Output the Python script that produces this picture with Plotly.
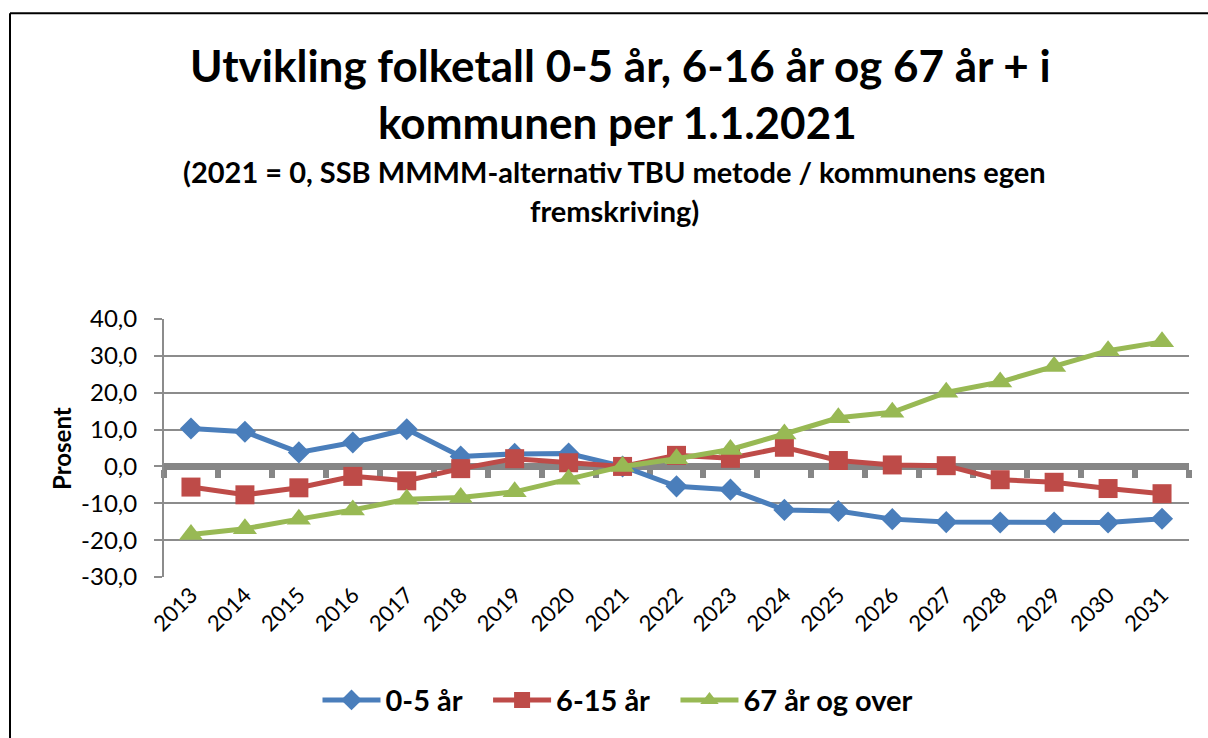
import plotly.graph_objects as go

years = list(range(2013, 2032))
series_names = ["0-5 år", "6-15 år", "67 år og over"]
age_0_5 = [10.3, 9.4, 3.8, 6.5, 10.1, 2.7, 3.4, 3.5, 0.0, -5.4, -6.3, -11.8, -12.1,
           -14.3, -15.1, -15.2, -15.2, -15.2, -14.2]
age_6_15 = [-5.6, -7.7, -5.8, -2.7, -3.9, -0.6, 2.1, 1.0, 0.0, 3.0, 2.2, 5.2, 1.6,
            0.4, 0.2, -3.6, -4.3, -6.0, -7.4]
age_67 = [-18.5, -16.9, -14.3, -11.8, -8.9, -8.4, -6.9, -3.5, 0.0, 2.1, 4.6, 8.8, 13.2,
          14.7, 20.1, 22.9, 27.1, 31.4, 33.8]
y_ticks = [-30, -20, -10, 0, 10, 20, 30, 40]
y_tick_text = ["-30,0", "-20,0", "-10,0", "0,0", "10,0", "20,0", "30,0", "40,0"]
title_lines = ["Utvikling folketall 0-5 år, 6-16 år og 67 år + i",
               "kommunen per 1.1.2021"]
subtitle_lines = ["(2021 = 0, SSB MMMM-alternativ TBU metode / kommunens egen",
                  "fremskriving)"]
y_title = "Prosent"

FONT = "Lato"
W, H = 1208, 738
L, R, T, B = 164, 19, 319, 159
PW = W - L - R
PH = H - T - B


def px(x):
    return (x - L) / PW


def py(y):
    return (H - B - y) / PH


fig = go.Figure()
styles = [
    dict(color="#4A7EBB", symbol="diamond", size=17),
    dict(color="#BE4B48", symbol="square", size=19),
    dict(color="#98B954", symbol="triangle-up", size=21),
]
GAP = "\u00a0\u00a0\u00a0"
for i, (name, vals, st) in enumerate(zip(series_names, [age_0_5, age_6_15, age_67], styles)):
    fig.add_trace(go.Scatter(
        x=years, y=vals, name=name + (GAP if i < len(series_names) - 1 else ""),
        mode="lines+markers",
        line=dict(color=st["color"], width=5),
        marker=dict(symbol=st["symbol"], size=st["size"], color=st["color"]),
    ))

# dummy trace for the tick-mark axis on the zero line
fig.add_trace(go.Scatter(x=[years[0]], y=[0], xaxis="x2", mode="markers",
                         marker=dict(opacity=0), showlegend=False, hoverinfo="skip"))

boundaries = [y - 0.5 for y in years] + [years[-1] + 0.5]

fig.update_layout(
    width=W, height=H,
    margin=dict(l=L, r=R, t=T, b=B),
    paper_bgcolor="white", plot_bgcolor="white",
    font=dict(family=FONT, color="black"),
    showlegend=True,
    legend=dict(orientation="h", x=px(618), xanchor="center", y=py(703), yanchor="middle",
                font=dict(size=29, family=FONT, color="black", weight="bold"),
                itemwidth=58, traceorder="normal", bgcolor="rgba(0,0,0,0)"),
    xaxis=dict(range=[2012.5, 2031.5], tickvals=years, ticktext=[str(y) for y in years],
               tickangle=-45, showgrid=False, zeroline=False, showline=False, ticks="",
               tickfont=dict(size=22, family=FONT, color="black")),
    xaxis2=dict(range=[2012.5, 2031.5], overlaying="x", anchor="free", position=30 / 70,
                tickvals=boundaries, showticklabels=False, ticks="outside", ticklen=8,
                tickwidth=6, tickcolor="#868686", showline=True, linecolor="#868686",
                linewidth=7, showgrid=False, zeroline=False, layer="below traces"),
    yaxis=dict(range=[-30, 40], tickvals=y_ticks, ticktext=y_tick_text,
               showgrid=True, gridcolor="#8C8C8C", gridwidth=1.5, zeroline=False,
               showline=True, linecolor="#8C8C8C", linewidth=2,
               ticks="outside", ticklen=8, tickwidth=2, tickcolor="#8C8C8C",
               ticklabelstandoff=12,
               tickfont=dict(size=24, family=FONT, color="black")),
)

ann = []
ann.append(dict(text=f"<b>{title_lines[0]}</b>", x=px(620), y=py(63)))
ann.append(dict(text=f"<b>{title_lines[1]}</b>", x=px(617), y=py(120)))
for a in ann:
    a.update(xref="paper", yref="paper", xanchor="center", yanchor="middle",
             showarrow=False, font=dict(size=44, family=FONT, color="black"))
sub = []
sub.append(dict(text=f"<b>{subtitle_lines[0]}</b>", x=px(614), y=py(170)))
sub.append(dict(text=f"<b>{subtitle_lines[1]}</b>", x=px(614), y=py(210)))
for a in sub:
    a.update(xref="paper", yref="paper", xanchor="center", yanchor="middle",
             showarrow=False, font=dict(size=29, family=FONT, color="black"))
ytitle = dict(text=f"<b>{y_title}</b>", x=px(62), y=py(450), xref="paper", yref="paper",
              xanchor="center", yanchor="middle", textangle=-90, showarrow=False,
              font=dict(size=24, family=FONT, color="black"))
fig.update_layout(annotations=ann + sub + [ytitle])

# chart frame: only the top and left edges are visible in the picture
fig.add_shape(type="line", xref="paper", yref="paper",
              x0=px(10), x1=px(1220), y0=py(11), y1=py(11),
              line=dict(color="black", width=2), layer="below")
fig.add_shape(type="line", xref="paper", yref="paper",
              x0=px(10), x1=px(10), y0=py(11), y1=py(750),
              line=dict(color="black", width=2), layer="below")

fig.write_html("out.html", config={"displayModeBar": False},
               post_script="document.body.style.margin='0';document.body.style.overflow='hidden';")
